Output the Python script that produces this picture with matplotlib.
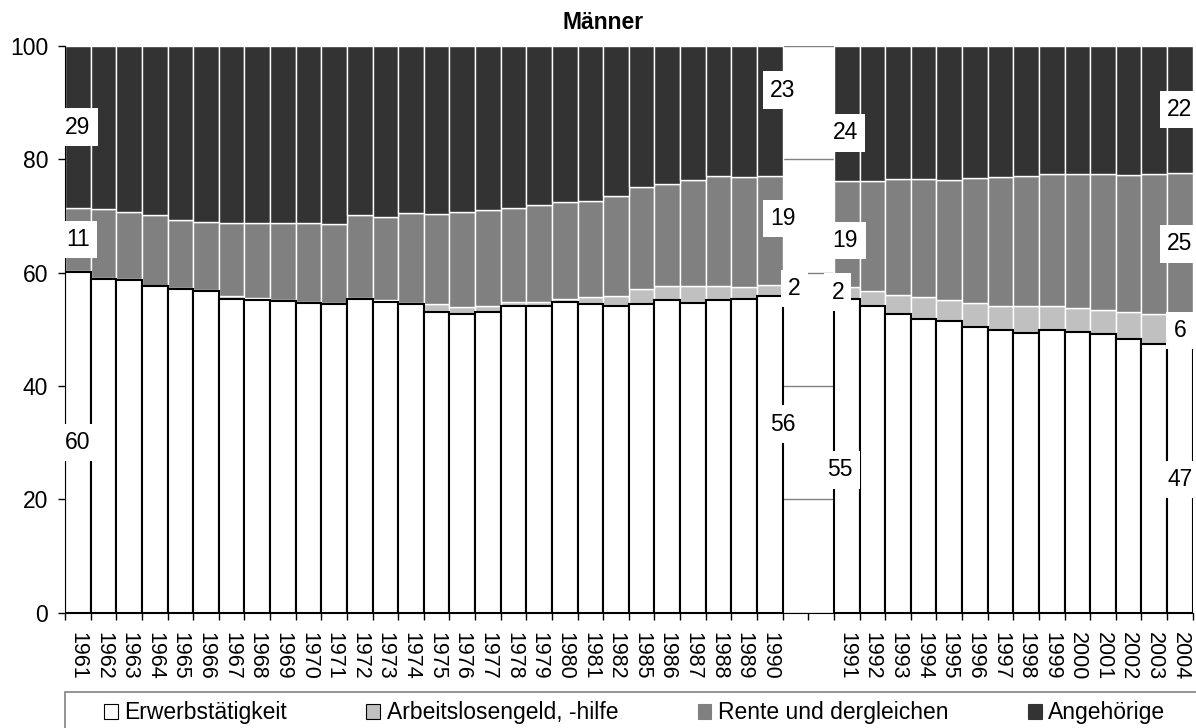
import numpy as np
import matplotlib
matplotlib.use('Agg')
import matplotlib.pyplot as plt
from matplotlib.patches import Patch, Rectangle

plt.rcParams['font.family'] = ['Liberation Sans', 'DejaVu Sans']

# data (percent shares)
years_1 = list(range(1961, 1983)) + list(range(1985, 1991))
years_2 = list(range(1991, 2005))

erwerb_1 = [60.1, 58.9, 58.7, 57.6, 57.2, 56.8, 55.4, 55.2, 55.0, 54.7, 54.5, 55.3, 54.9, 54.5,
            53.1, 52.7, 53.1, 54.1, 54.2, 54.9, 54.5, 54.1, 54.5, 55.1, 54.7, 55.1, 55.3, 55.9]
arbeitslos_1 = [0.2, 0.1, 0.1, 0.1, 0.1, 0.1, 0.5, 0.3, 0.2, 0.2, 0.1, 0.2, 0.2, 0.1,
                1.4, 1.3, 1.1, 0.8, 0.7, 0.5, 1.2, 1.8, 2.6, 2.5, 3.0, 2.6, 2.1, 2.0]
rente_1 = [11.1, 12.2, 11.9, 12.5, 12.0, 12.0, 12.8, 13.3, 13.6, 13.8, 14.0, 14.6, 14.7, 16.0,
           15.9, 16.7, 16.8, 16.5, 17.0, 17.0, 16.9, 17.6, 18.0, 18.0, 18.6, 19.3, 19.5, 19.1]
angeh_1 = [28.6, 28.8, 29.3, 29.8, 30.7, 31.1, 31.3, 31.2, 31.2, 31.3, 31.4, 29.9, 30.2, 29.4,
           29.6, 29.3, 29.0, 28.6, 28.1, 27.6, 27.4, 26.5, 24.9, 24.4, 23.7, 23.0, 23.1, 23.0]

erwerb_2 = [55.4, 54.1, 52.7, 51.8, 51.5, 50.5, 49.8, 49.4, 49.8, 49.6, 49.2, 48.3, 47.4, 47.0]
arbeitslos_2 = [2.1, 2.6, 3.3, 3.9, 3.6, 4.1, 4.4, 4.7, 4.3, 4.2, 4.3, 4.7, 5.3, 5.6]
rente_2 = [18.6, 19.5, 20.5, 20.8, 21.3, 22.1, 22.7, 23.0, 23.3, 23.6, 23.9, 24.2, 24.8, 25.0]
angeh_2 = [23.9, 23.8, 23.5, 23.5, 23.6, 23.3, 23.1, 22.9, 22.6, 22.6, 22.6, 22.8, 22.5, 22.4]

series_names = ['Erwerbstätigkeit', 'Arbeitslosengeld, -hilfe', 'Rente und dergleichen', 'Angehörige']
colors = ['#ffffff', '#c0c0c0', '#808080', '#333333']

# positions: two empty slots between the groups
n_gap = 2
x1 = np.arange(len(years_1))
x2 = len(years_1) + n_gap + np.arange(len(years_2))
xpos = np.concatenate([x1, x2])
years = years_1 + years_2
vals = np.array([erwerb_1 + erwerb_2, arbeitslos_1 + arbeitslos_2,
                 rente_1 + rente_2, angeh_1 + angeh_2])

fig = plt.figure(figsize=(11.96, 7.28), dpi=100)
ax = fig.add_axes([65 / 1196, 1 - 612.7 / 728, 1127.7 / 1196, 566.7 / 728])

bottom = np.zeros(len(xpos))
bottoms = []
for k in range(4):
    bottoms.append(bottom.copy())
    if k == 0:
        ax.bar(xpos, vals[k], width=1.0, bottom=bottom, color=colors[k],
               edgecolor='black', linewidth=1.5, zorder=4)
    else:
        ax.bar(xpos, vals[k], width=1.0, bottom=bottom, color=colors[k],
               edgecolor='white', linewidth=1.0, zorder=3)
    bottom = bottom + vals[k]

# data labels: (bar index, series, x shift, y shift)
labels = [
    (0, 0, 0, 0), (0, 2, 0, 0), (0, 3, 0, 0),
    (27, 0, 0.5, 5.3), (27, 1, 0.95, 0.3), (27, 2, 0.5, 2.1), (27, 3, 0.5, 3.7),
    (28, 0, -0.25, -2.5), (28, 1, -0.35, 0.1), (28, 2, -0.05, -1.1), (28, 3, -0.05, -3.4),
    (41, 0, 0, 0), (41, 1, 0, 0), (41, 2, 0, 0), (41, 3, 0, 0),
]
for i, k, dx, dy in labels:
    v = vals[k][i]
    yc = bottoms[k][i] + v / 2 + dy
    ax.text(xpos[i] + dx, yc, f'{v:.0f}', ha='center', va='center', fontsize=16.5,
            zorder=6, bbox=dict(boxstyle='square,pad=0.32', fc='white', ec='none'))

ax.set_xlim(-0.5, xpos[-1] + 0.5)
ax.set_ylim(0, 100)
ax.set_yticks(np.arange(0, 101, 20))
ax.yaxis.grid(True, color='#808080', linewidth=1.0, zorder=1)
ax.set_axisbelow(True)

ax.set_xticks(xpos)
ax.set_xticklabels([str(y) for y in years], rotation=270, fontsize=15.5)
ax.set_xticks(np.arange(-0.5, xpos[-1] + 1, 1.0), minor=True)
ax.tick_params(axis='x', which='major', length=0, pad=14)
ax.tick_params(axis='x', which='minor', length=5, width=1.0, color='black')
ax.tick_params(axis='y', length=5, width=1.0, labelsize=16.5, pad=7)

for s in ['top', 'right']:
    ax.spines[s].set_visible(False)
ax.spines['left'].set_color('black')
ax.spines['bottom'].set_color('black')
ax.spines['left'].set_zorder(5)
ax.spines['bottom'].set_zorder(5)

fig.text(603 / 1196, 1 - 29 / 728, 'Männer', ha='center', va='baseline',
         fontsize=16.5, fontweight='bold')

# legend with a frame running off the bottom and right edge
fig.patches.append(Rectangle((65 / 1196, -0.05), 1.0, 0.05 + 1 - 692 / 728,
                             transform=fig.transFigure, fill=False,
                             edgecolor='#808080', linewidth=1.2))
edge_cols = ['black', 'black', '#808080', '#333333']
handles = [Patch(facecolor=c, edgecolor=e, linewidth=0.8) for c, e in zip(colors, edge_cols)]
fig.legend(handles, series_names, loc='center left',
           bbox_to_anchor=(104 / 1196, 1 - 713 / 728), ncol=4, frameon=False,
           fontsize=16.5, borderpad=0, borderaxespad=0, handlelength=0.6,
           handleheight=0.6, handletextpad=0.3, columnspacing=3.45)

fig.savefig('out.png', dpi=100)
